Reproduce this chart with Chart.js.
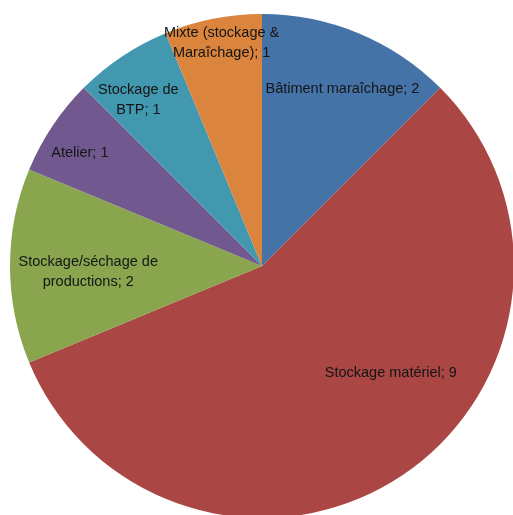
<!DOCTYPE html>
<html>
<head>
<meta charset="utf-8">
<script src="https://cdn.jsdelivr.net/npm/chart.js@4/dist/chart.umd.min.js"></script>
<style>
  html, body { margin: 0; padding: 0; background: #fff; overflow: hidden; }
  #wrap { position: absolute; left: 0; top: 0; width: 524px; height: 532px; }
</style>
</head>
<body>
<div id="wrap"><canvas id="camembert" width="524" height="532"></canvas></div>
<script>
// Données du graphique
const categories = [
  "Bâtiment maraîchage",
  "Stockage matériel",
  "Stockage/séchage de productions",
  "Atelier",
  "Stockage de BTP",
  "Mixte (stockage & Maraîchage)"
];
const valeurs = [2, 9, 2, 1, 1, 1];
// lignes des étiquettes (comme dans Excel)
const etiquettes = [
  ["Bâtiment maraîchage; 2"],
  ["Stockage matériel; 9"],
  ["Stockage/séchage de", "productions; 2"],
  ["Atelier; 1"],
  ["Stockage de", "BTP; 1"],
  ["Mixte (stockage &", "Maraîchage); 1"]
];
const couleurs = ["#4572A7", "#AA4643", "#89A54E", "#71588F", "#4198AF", "#DB843D"];

// position des étiquettes : fraction du rayon et décalage d'angle (degrés)
const rayonEtiq = [0.77, 0.665, 0.69, 0.85, 0.82, 0.90];
const decalAngle = [2, -16.5, -2, -2, -3, 1];

const etiquettesPlugin = {
  id: "etiquettes",
  afterDatasetsDraw(chart) {
    const ctx = chart.ctx;
    const meta = chart.getDatasetMeta(0);
    ctx.save();
    ctx.font = "14.5px 'Liberation Sans', 'DejaVu Sans', sans-serif";
    ctx.fillStyle = "#151515";
    ctx.textAlign = "center";
    ctx.textBaseline = "middle";
    meta.data.forEach((arc, i) => {
      const p = arc.getProps(["x", "y", "startAngle", "endAngle", "outerRadius"], true);
      const a = (p.startAngle + p.endAngle) / 2 + decalAngle[i] * Math.PI / 180;
      const r = p.outerRadius * rayonEtiq[i];
      const cx = p.x + Math.cos(a) * r;
      const cy = p.y + Math.sin(a) * r;
      const lignes = etiquettes[i];
      const h = 20;
      lignes.forEach((l, j) => {
        ctx.fillText(l, cx, cy + (j - (lignes.length - 1) / 2) * h);
      });
    });
    ctx.restore();
  }
};

new Chart(document.getElementById("camembert").getContext("2d"), {
  type: "pie",
  data: {
    labels: categories,
    datasets: [{
      data: valeurs,
      backgroundColor: couleurs,
      borderWidth: 0
    }]
  },
  options: {
    responsive: false,
    animation: false,
    layout: { padding: { left: 10, right: 10, top: 14, bottom: 14 } },
    plugins: {
      legend: { display: false },
      tooltip: { enabled: false }
    }
  },
  plugins: [etiquettesPlugin]
});
</script>
</body>
</html>
